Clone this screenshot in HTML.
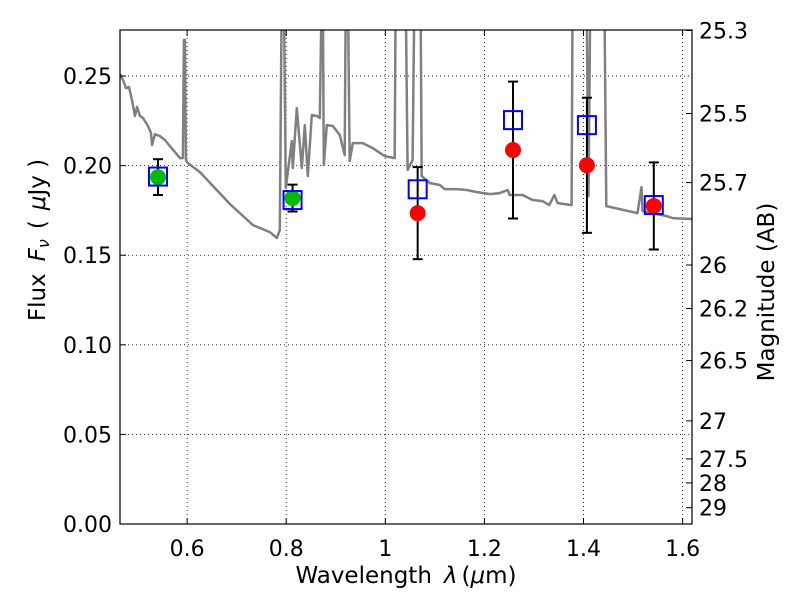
<!DOCTYPE html>
<html><head><meta charset="utf-8">
<style>
body{margin:0;background:#fff;}
svg{display:block;font-family:"DejaVu Sans","Liberation Sans",sans-serif;}
</style></head>
<body>
<svg id="chart" width="800" height="600"></svg>
<script>
// ---- data ----
const specLam = [0.4645,0.4705,0.4766,0.4827,0.4887,0.4948,0.4988,0.5049,0.5109,0.5210,0.5270,0.5290,0.5351,0.5452,0.5552,0.5653,0.5754,0.5855,0.5915,0.5935,0.5956,0.5976,0.6016,0.6258,0.6863,0.7327,0.7669,0.7811,0.7871,0.7911,0.7952,0.7992,0.8113,0.8133,0.8214,0.8315,0.8375,0.8436,0.8516,0.8617,0.8677,0.8718,0.8738,0.8758,0.8819,0.8940,0.9081,0.9181,0.9202,0.9242,0.9282,0.9343,0.9544,0.9746,0.9988,1.019,1.021,1.041,1.045,1.055,1.059,1.0673,1.071,1.0734,1.0895,1.1097,1.1198,1.144,1.164,1.184,1.211,1.231,1.247,1.251,1.277,1.297,1.317,1.331,1.341,1.348,1.376,1.378,1.406,1.410,1.414,1.442,1.446,1.509,1.517,1.519,1.567,1.580,1.618];
const specFlux = [0.2511,0.2478,0.2433,0.2439,0.2366,0.2277,0.2327,0.2277,0.2266,0.2221,0.2182,0.2115,0.2176,0.2165,0.2143,0.2109,0.2076,0.2042,0.2042,0.2701,0.2701,0.2031,0.2014,0.1964,0.1786,0.1668,0.1629,0.1596,0.1641,0.30,0.30,0.1875,0.2137,0.1987,0.2321,0.1987,0.2226,0.1942,0.2282,0.2277,0.2266,0.30,0.30,0.2003,0.2226,0.2221,0.2171,0.2059,0.30,0.30,0.2026,0.2126,0.2126,0.2098,0.2053,0.2042,0.30,0.30,0.1976,0.2031,0.30,0.30,0.30,0.1942,0.1903,0.1892,0.1869,0.1869,0.1864,0.1853,0.1841,0.1847,0.1864,0.1836,0.1836,0.1808,0.1802,0.1780,0.1836,0.1791,0.1780,0.30,0.30,0.1830,0.30,0.30,0.1774,0.1735,0.1880,0.1747,0.1719,0.1707,0.1702];
const bandLam = [0.5412,0.8128,1.0653,1.2577,1.4069,1.5419];
const obsFlux = [0.1936,0.1819,0.1735,0.2087,0.2002,0.1775];
const obsErr = [0.010,0.0075,0.0257,0.0382,0.0377,0.0243];
const modelFlux = [0.1939,0.1808,0.1868,0.2254,0.2226,0.1780];
const obsColor = ["#00bb00","#00bb00","red","red","red","red"];
const xTicks = [0.6,0.8,1.0,1.2,1.4,1.6];
const xTickLabels = ["0.6","0.8","1","1.2","1.4","1.6"];
const yTicks = [0,0.05,0.10,0.15,0.20,0.25];
const yTickLabels = ["0.00","0.05","0.10","0.15","0.20","0.25"];
const magTicks = [25.3,25.5,25.7,26,26.2,26.5,27,27.5,28,29];
const magLabels = ["25.3","25.5","25.7","26","26.2","26.5","27","27.5","28","29"];

// ---- axes ----
const L=120,R=692,T=30,B=524;
const xMin=0.4645,xMax=1.619,yMin=0,yMax=0.2757;
const X=v=>L+(v-xMin)/(xMax-xMin)*(R-L);
const Y=v=>B-(v-yMin)/(yMax-yMin)*(B-T);
const NS="http://www.w3.org/2000/svg";
const svg=document.getElementById('chart');
function mk(tag,attrs,parent){const e=document.createElementNS(NS,tag);for(const k in attrs)e.setAttribute(k,attrs[k]);(parent||svg).appendChild(e);return e;}

const defs=mk('defs',{});
const cp=mk('clipPath',{id:'clip'},defs);
mk('rect',{x:L,y:T,width:R-L,height:B-T},cp);

// grid
const grid=mk('g',{});


xTicks.forEach(v=>{mk('line',{x1:X(v),x2:X(v),y1:T,y2:B,stroke:'#000','stroke-width':0.8,'stroke-dasharray':'1,3'},grid);});
yTicks.forEach(v=>{mk('line',{x1:L,x2:R,y1:Y(v),y2:Y(v),stroke:'#000','stroke-width':0.8,'stroke-dasharray':'1,3'},grid);});

// spectrum
const pts=specLam.map((l,i)=>X(l).toFixed(1)+','+Y(specFlux[i]).toFixed(1)).join(' ');
const spec=mk('polyline',{points:pts,fill:'none',stroke:'#808080','stroke-width':2.5,'clip-path':'url(#clip)','stroke-linejoin':'round'});



// error bars and points
bandLam.forEach((l,i)=>{
  const g=mk('g',{});
  
  
  const x=X(l),y1=Y(obsFlux[i]-obsErr[i]),y2=Y(obsFlux[i]+obsErr[i]);
  mk('line',{x1:x,x2:x,y1:y1,y2:y2,stroke:'#000','stroke-width':2},g);
  mk('line',{x1:x-5,x2:x+5,y1:y1,y2:y1,stroke:'#000','stroke-width':2},g);
  mk('line',{x1:x-5,x2:x+5,y1:y2,y2:y2,stroke:'#000','stroke-width':2},g);
  const c=mk('circle',{cx:x,cy:Y(obsFlux[i]),r:8,fill:obsColor[i]},g);
  
  
  const s=mk('rect',{x:x-9,y:Y(modelFlux[i])-9,width:18,height:18,fill:'none',stroke:'#0000ff','stroke-width':2},g);
  
  
});

// frame
mk('rect',{x:L,y:T,width:R-L,height:B-T,fill:'none',stroke:'#000','stroke-width':1.2});

// x ticks
xTicks.forEach((v,i)=>{
  mk('line',{x1:X(v),x2:X(v),y1:B,y2:B-6,stroke:'#000'});
  mk('line',{x1:X(v),x2:X(v),y1:T,y2:T+6,stroke:'#000'});
  const t=mk('text',{x:X(v),y:B+32,'font-size':22,'text-anchor':'middle'});
  t.textContent=xTickLabels[i];
  
  
});
// y ticks
yTicks.forEach((v,i)=>{
  mk('line',{x1:L,x2:L+6,y1:Y(v),y2:Y(v),stroke:'#000'});
  const t=mk('text',{x:L-8,y:Y(v)+8,'font-size':22,'text-anchor':'end'});
  t.textContent=yTickLabels[i];
  
  
});
// mag ticks
magTicks.forEach((m,i)=>{
  const f=Math.pow(10,(23.9-m)/2.5);
  const y=Y(f);
  mk('line',{x1:R,x2:R-6,y1:y,y2:y,stroke:'#000'});
  const t=mk('text',{x:R+7,y:y+8,'font-size':22,'text-anchor':'start'});
  t.textContent=magLabels[i];
  
  
});
</script>
<svg width="800" height="600" style="position:absolute;left:0;top:0;font-family:'DejaVu Sans','Liberation Sans',sans-serif">
<text x="406" y="583" font-size="23" text-anchor="middle">Wavelength<tspan dx="12" font-style="italic">λ</tspan><tspan dx="4">(</tspan><tspan font-style="italic">μ</tspan>m)</text>
<text transform="translate(45,240) rotate(-90)" font-size="23" text-anchor="middle">Flux<tspan dx="12" font-style="italic">F</tspan><tspan font-style="italic" font-size="16" dy="4">ν</tspan><tspan dy="-4" dx="10">(</tspan><tspan dx="10" font-style="italic">μ</tspan>Jy )</text>
<text transform="translate(774,292) rotate(-90)" font-size="23" text-anchor="middle">Magnitude (AB)</text>
</svg>
</body></html>
